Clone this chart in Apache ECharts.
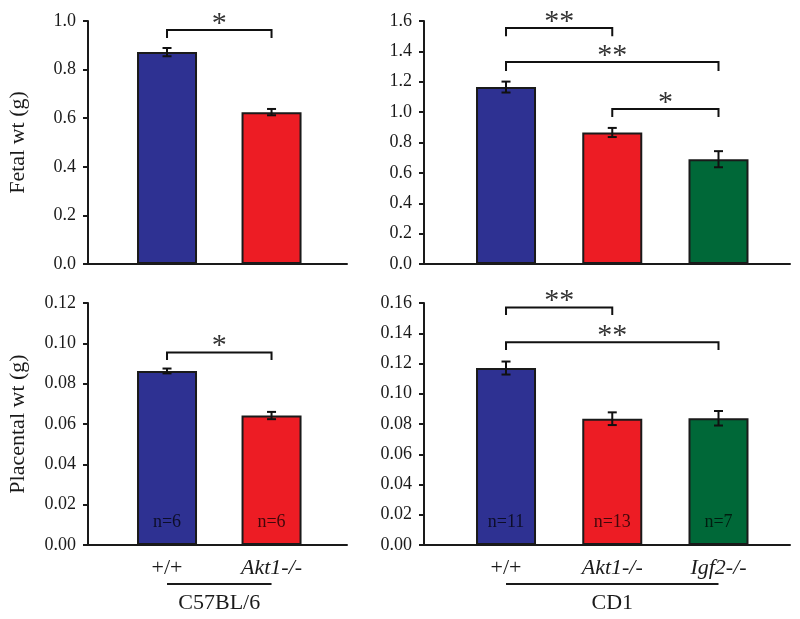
<!DOCTYPE html>
<html>
<head>
<meta charset="utf-8">
<script src="https://cdn.jsdelivr.net/npm/echarts@6/dist/echarts.min.js"></script>
<style>html,body{margin:0;padding:0;background:#fff}#c{width:800px;height:619px}</style>
</head>
<body>
<div id="c"></div>
<script>
// ---- data ----
const C57_CATS = ['+/+', 'Akt1-/-'];
const CD1_CATS = ['+/+', 'Akt1-/-', 'Igf2-/-'];
const C57_GROUP = 'C57BL/6';
const CD1_GROUP = 'CD1';
const FETAL_C57 = [0.872, 0.625];
const FETAL_C57_SE = [0.017, 0.013];
const FETAL_CD1 = [1.165, 0.866, 0.69];
const FETAL_CD1_SE = [0.036, 0.03, 0.053];
const PLAC_C57 = [0.0863, 0.0642];
const PLAC_C57_SE = [0.0012, 0.0018];
const PLAC_CD1 = [0.117, 0.0835, 0.0838];
const PLAC_CD1_SE = [0.0043, 0.0042, 0.0048];
const C57_N = ['n=6', 'n=6'];
const CD1_N = ['n=11', 'n=13', 'n=7'];
// brackets: [fromIdx, toIdx, level, endLevel, label]
const FETAL_C57_BR = [[0, 1, 0.963, 0.93, '*']];
const FETAL_CD1_BR = [[0, 1, 1.554, 1.50, '**'], [0, 2, 1.33, 1.27, '**'], [1, 2, 1.02, 0.968, '*']];
const PLAC_C57_BR = [[0, 1, 0.0955, 0.0917, '*']];
const PLAC_CD1_BR = [[0, 1, 0.157, 0.152, '**'], [0, 2, 0.134, 0.129, '**']];
// y-axis scales (tick labels)
const FETAL_C57_Y = {max: 1.0, step: 0.2, dec: 1};
const FETAL_CD1_Y = {max: 1.6, step: 0.2, dec: 1};
const PLAC_C57_Y = {max: 0.12, step: 0.02, dec: 2};
const PLAC_CD1_Y = {max: 0.16, step: 0.02, dec: 2};
const BAR_COLORS = ['#2E3192', '#ED1C24', '#006838'];

const FONT = 'Liberation Serif';
const INK = '#1a1a1a';

const chart = echarts.init(document.getElementById('c'));

const grids = [
  {left: 88, top: 21, width: 259, height: 243},
  {left: 424, top: 21, width: 366, height: 243},
  {left: 88, top: 303, width: 259, height: 242},
  {left: 424, top: 303, width: 366, height: 242}
];
const xRange2 = {min: -0.756, max: 1.722};
const xRange3 = {min: -0.772, max: 2.673};

function xAxis(gi, r) {
  return {type: 'value', gridIndex: gi, min: r.min, max: r.max,
    axisLine: {show: true, onZero: false, lineStyle: {color: INK, width: 2}},
    axisTick: {show: false}, axisLabel: {show: false}, splitLine: {show: false}};
}
function yAxis(gi, s, name) {
  return {type: 'value', gridIndex: gi, min: 0, max: s.max, interval: s.step,
    name: name, nameLocation: 'middle', nameGap: 59,
    nameTextStyle: {fontFamily: FONT, fontSize: 22, color: INK},
    axisLine: {show: true, onZero: false, lineStyle: {color: INK, width: 2}},
    axisTick: {show: true, length: 5, lineStyle: {color: INK, width: 2}},
    axisLabel: {fontFamily: FONT, fontSize: 18, color: INK, margin: 12,
      formatter: v => v.toFixed(s.dec)},
    splitLine: {show: false}};
}

function barSeries(gi, vals, nLabels) {
  return {type: 'bar', xAxisIndex: gi, yAxisIndex: gi, barWidth: 60,
    data: vals.map((v, i) => ({value: [i, v], itemStyle: {color: BAR_COLORS[i]},
      label: nLabels ? {show: true, formatter: nLabels[i]} : {show: false}})),
    itemStyle: {borderColor: '#1a1a1a', borderWidth: 2},
    label: {position: 'insideBottom', distance: 14, fontFamily: FONT, fontSize: 18, color: 'rgba(0,0,0,0.72)'},
    emphasis: {disabled: true}, silent: true, z: 2};
}

function errSeries(gi, vals, se) {
  return {type: 'custom', xAxisIndex: gi, yAxisIndex: gi, silent: true, z: 5,
    data: vals.map((v, i) => [i, v, se[i]]),
    renderItem: (params, api) => {
      const x = api.value(0), m = api.value(1), e = api.value(2);
      const hi = api.coord([x, m + e]), lo = api.coord([x, m - e]);
      const w = 4.5;
      const st = {stroke: '#111', lineWidth: 2};
      return {type: 'group', children: [
        {type: 'line', shape: {x1: hi[0], y1: hi[1], x2: lo[0], y2: lo[1]}, style: st},
        {type: 'line', shape: {x1: hi[0] - w, y1: hi[1], x2: hi[0] + w, y2: hi[1]}, style: st},
        {type: 'line', shape: {x1: lo[0] - w, y1: lo[1], x2: lo[0] + w, y2: lo[1]}, style: st}
      ]};
    }};
}

function bracketSeries(gi, br) {
  return {type: 'custom', xAxisIndex: gi, yAxisIndex: gi, silent: true, z: 6, clip: false,
    data: br.map(b => [b[0], b[1], b[2], b[3]]),
    renderItem: (params, api) => {
      const a = api.value(0), b = api.value(1), lv = api.value(2), en = api.value(3);
      const p1 = api.coord([a, en]), p2 = api.coord([a, lv]), p3 = api.coord([b, lv]), p4 = api.coord([b, en]);
      const lab = br[params.dataIndex][4];
      return {type: 'group', children: [
        {type: 'polyline', shape: {points: [p1, p2, p3, p4]}, style: {stroke: '#111', lineWidth: 2, fill: null}},
        {type: 'text', x: (p2[0] + p3[0]) / 2, y: p2[1] + 9,
          style: {text: lab, font: '30px "Liberation Serif"', fill: '#333', align: 'center', verticalAlign: 'bottom'}}
      ]};
    }};
}

function catSeries(gi, cats, group) {
  return {type: 'custom', xAxisIndex: gi, yAxisIndex: gi, silent: true, z: 6, clip: false,
    data: cats.map((c, i) => [i, 0]),
    renderItem: (params, api) => {
      const i = api.value(0);
      const p = api.coord([i, 0]);
      const name = cats[params.dataIndex];
      const italic = name !== '+/+';
      const children = [
        {type: 'text', x: p[0], y: p[1] + 23,
          style: {text: name, font: (italic ? 'italic ' : '') + '22px "Liberation Serif"', fill: INK,
            align: 'center', verticalAlign: 'middle'}}
      ];
      if (params.dataIndex === 0) {
        const q0 = api.coord([0, 0]), q1 = api.coord([cats.length - 1, 0]);
        children.push({type: 'line', shape: {x1: q0[0], y1: p[1] + 39, x2: q1[0], y2: p[1] + 39},
          style: {stroke: INK, lineWidth: 2}});
        children.push({type: 'text', x: (q0[0] + q1[0]) / 2, y: p[1] + 58,
          style: {text: group, font: '22px "Liberation Serif"', fill: INK, align: 'center', verticalAlign: 'middle'}});
      }
      return {type: 'group', children};
    }};
}

chart.setOption({
  animation: false,
  backgroundColor: '#fff',
  grid: grids,
  xAxis: [xAxis(0, xRange2), xAxis(1, xRange3), xAxis(2, xRange2), xAxis(3, xRange3)],
  yAxis: [yAxis(0, FETAL_C57_Y, 'Fetal wt (g)'), yAxis(1, FETAL_CD1_Y, ''),
          yAxis(2, PLAC_C57_Y, 'Placental wt (g)'), yAxis(3, PLAC_CD1_Y, '')],
  series: [
    barSeries(0, FETAL_C57, null), errSeries(0, FETAL_C57, FETAL_C57_SE), bracketSeries(0, FETAL_C57_BR),
    barSeries(1, FETAL_CD1, null), errSeries(1, FETAL_CD1, FETAL_CD1_SE), bracketSeries(1, FETAL_CD1_BR),
    barSeries(2, PLAC_C57, C57_N), errSeries(2, PLAC_C57, PLAC_C57_SE), bracketSeries(2, PLAC_C57_BR),
    catSeries(2, C57_CATS, C57_GROUP),
    barSeries(3, PLAC_CD1, CD1_N), errSeries(3, PLAC_CD1, PLAC_CD1_SE), bracketSeries(3, PLAC_CD1_BR),
    catSeries(3, CD1_CATS, CD1_GROUP)
  ]
});
</script>
</body>
</html>
